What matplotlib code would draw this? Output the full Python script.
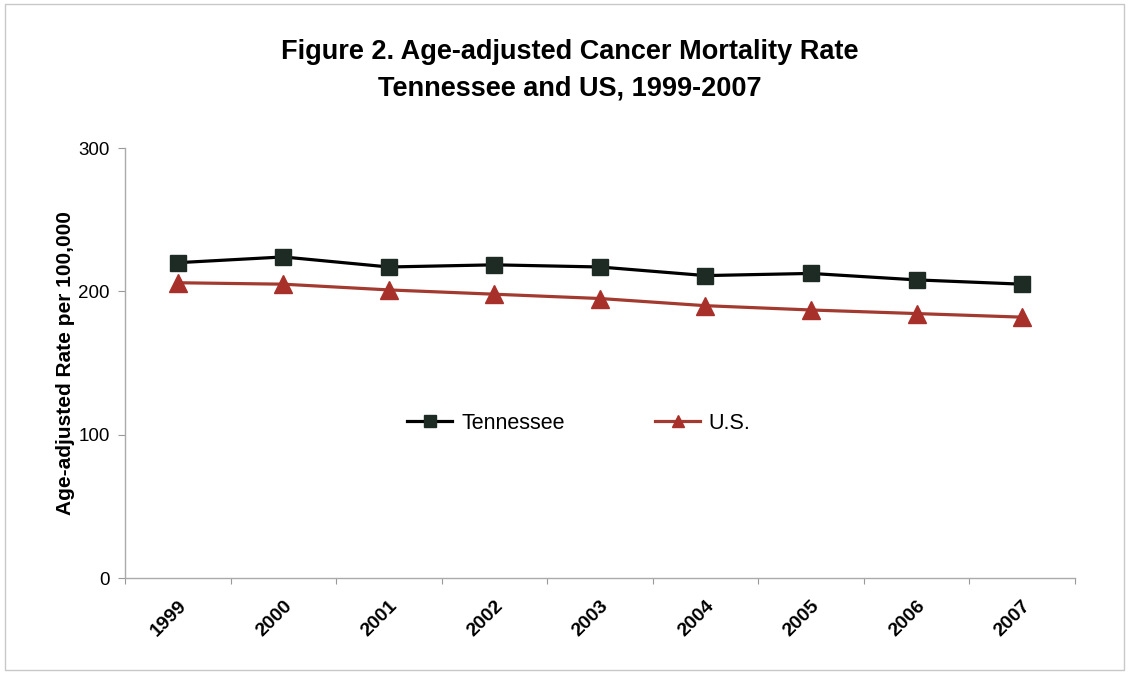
import matplotlib.pyplot as plt
from matplotlib.patches import Rectangle

years = ['1999', '2000', '2001', '2002', '2003', '2004', '2005', '2006', '2007']
tennessee = [220, 224, 217, 218.5, 217, 211, 212.5, 208, 205]
us = [206, 205, 201, 198, 195, 190, 187, 184.5, 182]

narrow = ['Liberation Sans Narrow', 'Liberation Sans', 'DejaVu Sans']
plt.rcParams['font.family'] = ['Liberation Sans', 'DejaVu Sans']

fig = plt.figure(figsize=(11.29, 6.74), dpi=100)
fig.patches.append(Rectangle((0.004, 0.006), 0.992, 0.988, transform=fig.transFigure,
                             fill=False, edgecolor='#c8c8c8', linewidth=1))
ax = fig.add_axes([0.1107, 0.1424, 0.8413, 0.638])

x = list(range(len(years)))
ax.plot(x, tennessee, color='black', linewidth=2.3, marker='s', markersize=11.5,
        markerfacecolor='#1e2b25', markeredgecolor='#1e2b25', label='Tennessee')
ax.plot(x, us, color='#a33a30', linewidth=2.3, marker='^', markersize=12.5,
        markerfacecolor='#a8302a', markeredgecolor='#a8302a', label='U.S.')

ax.set_xlim(-0.5, len(years) - 0.5)
ax.set_ylim(0, 300)
ax.set_yticks([0, 100, 200, 300])
ax.set_yticklabels(['0', '100', '200', '300'], fontsize=13.5)
ax.set_xticks([i - 0.5 for i in range(len(years) + 1)])
ax.set_xticklabels([])
ax.set_xticks(x, minor=True)
ax.set_xticklabels(years, minor=True, rotation=45, ha='right', rotation_mode='anchor',
                   fontsize=14, fontweight='bold', family=narrow)
ax.tick_params(axis='x', which='minor', length=0, pad=14)
ax.tick_params(axis='x', which='major', length=4, color='#999999')
ax.tick_params(axis='y', length=5, color='#999999', pad=6)

for side in ['top', 'right']:
    ax.spines[side].set_visible(False)
for side in ['left', 'bottom']:
    ax.spines[side].set_color('#aaaaaa')
    ax.spines[side].set_linewidth(1)

ax.set_ylabel('Age-adjusted Rate per 100,000', fontsize=15, fontweight='bold',
              family=narrow, labelpad=2)

fig.text(0.505, 0.896, 'Figure 2. Age-adjusted Cancer Mortality Rate\nTennessee and US, 1999-2007',
         ha='center', va='center', fontsize=19.5, fontweight='bold', family=narrow,
         linespacing=1.55)

ax.legend(loc='center', bbox_to_anchor=(0.478, 0.36), ncol=2, frameon=False,
          fontsize=15.5, handlelength=2.1, columnspacing=4.2, markerscale=0.7,
          handletextpad=0.4)

fig.savefig('out.png', dpi=100)
